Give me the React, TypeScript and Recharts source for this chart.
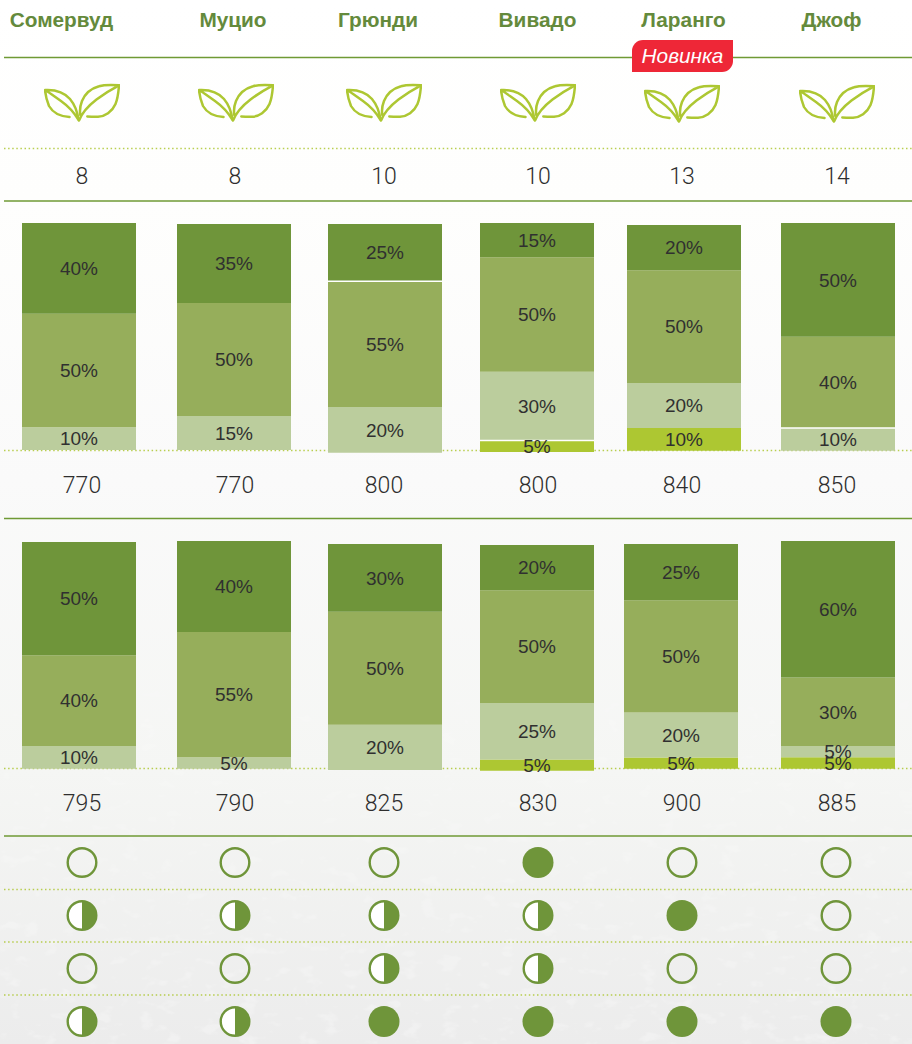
import { BarChart, Bar, XAxis, YAxis, LabelList, ReferenceLine, ScatterChart, Scatter } from "recharts";

const varieties = ["Сомервуд", "Муцио", "Грюнди", "Вивадо", "Ларанго", "Джоф"];
const seedCounts = [8, 8, 10, 10, 13, 14];

// shares, top block of bars
const darkUpper = [40, 35, 25, 15, 20, 50];
const midUpper = [50, 50, 55, 50, 50, 40];
const lightUpper = [10, 15, 20, 30, 20, 10];
const limeUpper = [0, 0, 0, 5, 10, 0];
const seamsUpper = [null, null, 75, 5, null, 10];
const totalsUpper = [770, 770, 800, 800, 840, 850];

// shares, lower block of bars
const darkLower = [50, 40, 30, 20, 25, 60];
const midLower = [40, 55, 50, 50, 50, 30];
const lightLower = [10, 5, 20, 25, 20, 5];
const limeLower = [0, 0, 0, 5, 5, 5];
const totalsLower = [795, 790, 825, 830, 900, 885];

// 0 empty, 0.5 half, 1 full
const ratingRows = [
  [0, 0, 0, 1, 0, 0],
  [0.5, 0.5, 0.5, 0.5, 1, 0],
  [0, 0, 0.5, 0.5, 0, 0],
  [0.5, 0.5, 1, 1, 1, 1],
];

const GREEN = "#6f953a";
const LIME = "#adc732";
const grades = [
  { key: "lime", fill: LIME },
  { key: "light", fill: "#bbcd9d" },
  { key: "mid", fill: "#96ae5b" },
  { key: "dark", fill: GREEN },
];

const BAR_WIDTH = 114;
const LABEL_ROOM = 10; // keeps low 5% labels from being cut at the svg edge
const barLeftUpper = [22, 177, 328, 480, 627, 781];
const barLeftLower = [22, 177, 328, 480, 624, 781];
const barTopUpper = [223, 224, 224, 223, 225, 223];
const barBottomUpper = [450, 450, 452.7, 452, 450.7, 450.7];
const barTopLower = [542, 541, 544, 545, 544, 541];
const barBottomLower = [768.7, 768.7, 770, 770.7, 768.7, 768.7];

const nameX = [61.5, 233, 378, 537.5, 683.5, 831.5];
const numberX = [82, 235, 384, 538, 682, 837];
const dotX = [82, 235, 384, 538, 681.5, 836.3];
const leafX = [45, 199, 347, 501, 645, 800];
const leafY = [84, 84, 84, 84, 85, 85];
const solidLines = [57.5, 201, 518.5, 836];
const dottedLines = [148.5, 450.5, 768.5, 889.5, 942, 995];

const NUMBER_FONT = "Roboto, sans-serif";
const LABEL_FONT = "'Liberation Sans', sans-serif";

function StackColumn({ name, shares, left, top, bottom, seam }: any) {
  const row = { name, ...shares };
  return (
    <div style={{ position: "absolute", left, top }}>
      <BarChart
        width={BAR_WIDTH}
        height={bottom - top + LABEL_ROOM}
        data={[row]}
        margin={{ top: 0, right: 0, bottom: LABEL_ROOM, left: 0 }}
        barCategoryGap={0}
      >
        <XAxis dataKey="name" hide />
        <YAxis hide domain={[0, 100]} />
        {grades
          .filter((g) => row[g.key] > 0)
          .map((g) => (
            <Bar key={g.key} dataKey={g.key} stackId="a" fill={g.fill} isAnimationActive={false}>
              <LabelList
                dataKey={g.key}
                position="center"
                formatter={(v: number) => `${v}%`}
                style={{ fontFamily: LABEL_FONT, fontSize: 19, fill: "#303030" }}
              />
            </Bar>
          ))}
        {seam != null && <ReferenceLine y={seam} stroke="#fff" strokeWidth={1.5} />}
      </BarChart>
    </div>
  );
}

const RatingDot = ({ cx, cy, payload }: any) => {
  const r = 14.3;
  if (payload.level === 1) return <circle cx={cx} cy={cy} r={15.5} fill={GREEN} />;
  if (payload.level === 0.5) {
    return (
      <g>
        <circle cx={cx} cy={cy} r={r} fill="#fff" stroke={GREEN} strokeWidth={2.4} />
        <path d={`M${cx} ${cy - r} A${r} ${r} 0 0 1 ${cx} ${cy + r} Z`} fill={GREEN} />
      </g>
    );
  }
  return <circle cx={cx} cy={cy} r={r} fill="none" stroke={GREEN} strokeWidth={2.4} />;
};

function RatingColumn({ name, index, x }: any) {
  const points = ratingRows.map((levels, i) => ({ name, row: `r${i}`, level: levels[index] }));
  return (
    <div style={{ position: "absolute", left: x - 20, top: 836.2 }}>
      <ScatterChart width={40} height={212} margin={{ top: 0, right: 0, bottom: 0, left: 0 }}>
        <XAxis dataKey="name" type="category" scale="band" hide allowDuplicatedCategory={false} />
        <YAxis dataKey="row" type="category" scale="band" hide reversed allowDuplicatedCategory={false} />
        <Scatter data={points} shape={RatingDot} isAnimationActive={false} />
      </ScatterChart>
    </div>
  );
}

const Leaf = ({ x, y }: any) => (
  <svg
    width={76}
    height={40}
    viewBox="0 0 76 40"
    style={{ position: "absolute", left: x - 1, top: y - 1 }}
    fill="none"
    stroke={LIME}
    strokeWidth={2.5}
    strokeLinecap="round"
    strokeLinejoin="round"
  >
    <path d="M25.5 34C17 33.5 9 30 5 23C3 18 1.5 12 1 7C10 6.5 20 9 26 16C31 22 33.5 29 34.5 37C30 29 24 23 17 18C11 14 6 10 1 7" />
    <path d="M35 37.5C38 30 44 23 52.5 16.5C59 11.5 67 6.5 75 2.3C68 1.8 61 1.5 55 3.3C47 5.5 41 11 38 18C36 23 35.5 27 36.3 32" />
    <path d="M75 2.3C74.5 9 74 15 71.5 21C68 29 61 33.5 54 33.8C50 34 47 33.8 43.3 33.5" />
  </svg>
);

const TextAt = ({ x, y, children, style }: any) => (
  <div
    style={{
      position: "absolute",
      left: x - 100,
      top: y - 20,
      width: 200,
      height: 40,
      lineHeight: "40px",
      textAlign: "center",
      ...style,
    }}
  >
    {children}
  </div>
);

function BarRow({ dark, mid, light, lime, lefts, tops, bottoms, seams }: any) {
  return varieties.map((name, i) => (
    <StackColumn
      key={name}
      name={name}
      shares={{ dark: dark[i], mid: mid[i], light: light[i], lime: lime[i] }}
      left={lefts[i]}
      top={tops[i]}
      bottom={bottoms[i]}
      seam={seams ? seams[i] : null}
    />
  ));
}

export default function App() {
  const numberStyle = { fontFamily: NUMBER_FONT, fontWeight: 300, fontSize: 23, color: "#2e2e2e" };
  return (
    <div
      style={{
        position: "absolute",
        left: 0,
        top: 0,
        width: 912,
        height: 1044,
        overflow: "hidden",
        background: "linear-gradient(#ffffff 0, #fefefd 200px, #fafafa 480px, #f5f6f4 770px, #ececec 1044px)",
      }}
    >
      <svg width={912} height={1044} style={{ position: "absolute", left: 0, top: 0 }}>
        <defs>
          <filter id="speckle" x="0" y="0" width="100%" height="100%">
            <feTurbulence type="fractalNoise" baseFrequency="0.05 0.09" numOctaves={3} seed={4} />
            <feColorMatrix values="0 0 0 0 1  0 0 0 0 1  0 0 0 0 1  0 0 0 5 -2.8" />
          </filter>
          <linearGradient id="fade" x1="0" y1="0" x2="0" y2="1">
            <stop offset="0.42" stopColor="#000" />
            <stop offset="0.75" stopColor="#666" />
            <stop offset="1" stopColor="#bbb" />
          </linearGradient>
          <mask id="fadeMask">
            <rect width={912} height={1044} fill="url(#fade)" />
          </mask>
        </defs>
        <g mask="url(#fadeMask)">
          <rect width={912} height={1044} filter="url(#speckle)" opacity={0.35} />
        </g>
        {solidLines.map((y) => (
          <line key={y} x1={4} x2={912} y1={y} y2={y} stroke="#6f9a35" strokeWidth={1.5} />
        ))}
        {dottedLines.map((y) => (
          <line key={y} x1={4} x2={912} y1={y} y2={y} stroke={LIME} strokeWidth={1.5} strokeDasharray="1.5 2.6" opacity={0.85} />
        ))}
      </svg>

      {varieties.map((name, i) => (
        <TextAt
          key={name}
          x={nameX[i]}
          y={20}
          style={{ fontFamily: LABEL_FONT, fontWeight: 700, fontSize: 20.8, color: "#648a3c" }}
        >
          {name}
        </TextAt>
      ))}

      {leafX.map((x, i) => (
        <Leaf key={x} x={x} y={leafY[i]} />
      ))}

      <div
        style={{
          position: "absolute",
          left: 632,
          top: 40,
          width: 101,
          height: 32,
          background: "#ee2737",
          borderRadius: "11px 0 11px 0",
          color: "#fff",
          fontFamily: LABEL_FONT,
          fontStyle: "italic",
          fontSize: 20.8,
          lineHeight: "31px",
          textAlign: "center",
        }}
      >
        Новинка
      </div>

      {seedCounts.map((n, i) => (
        <TextAt key={i} x={numberX[i]} y={176.5} style={numberStyle}>
          {n}
        </TextAt>
      ))}

      <BarRow
        dark={darkUpper}
        mid={midUpper}
        light={lightUpper}
        lime={limeUpper}
        lefts={barLeftUpper}
        tops={barTopUpper}
        bottoms={barBottomUpper}
        seams={seamsUpper}
      />
      {totalsUpper.map((n, i) => (
        <TextAt key={i} x={numberX[i]} y={485.5} style={numberStyle}>
          {n}
        </TextAt>
      ))}

      <BarRow
        dark={darkLower}
        mid={midLower}
        light={lightLower}
        lime={limeLower}
        lefts={barLeftLower}
        tops={barTopLower}
        bottoms={barBottomLower}
      />
      {totalsLower.map((n, i) => (
        <TextAt key={i} x={numberX[i]} y={804} style={numberStyle}>
          {n}
        </TextAt>
      ))}

      {varieties.map((name, i) => (
        <RatingColumn key={name} name={name} index={i} x={dotX[i]} />
      ))}
    </div>
  );
}
